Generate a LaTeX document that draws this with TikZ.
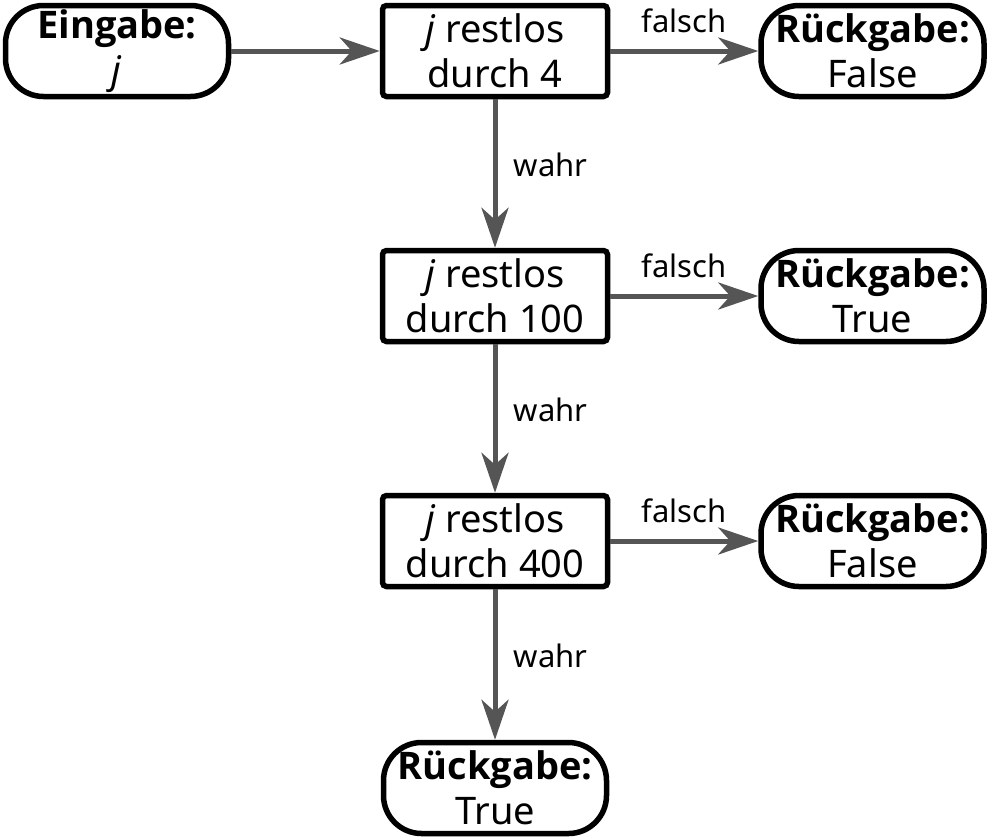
\documentclass[tikz,border=0pt]{standalone}
\usepackage{fontspec}
\setmainfont{Noto Sans}
\newfontfamily\headfam{Open Sans}
\newcommand\boldhead[1]{{\headfam\bfseries #1}}
\usetikzlibrary{arrows.meta}
\definecolor{arrowgray}{RGB}{85,85,85}
\tikzset{
  textfont/.style={font=\fontsize{38}{45}\selectfont},
  labelfont/.style={font=\fontsize{31}{36}\selectfont},
  testbox/.style={draw=black, line width=5.5pt, rounded corners=4pt, minimum width=225pt, minimum height=91pt, inner sep=0pt, align=center, textfont},
  termbox/.style={draw=black, line width=5.5pt, rounded corners=38pt, minimum width=223pt, minimum height=91pt, inner sep=0pt, align=center, textfont},
  flow/.style={draw=arrowgray, line width=5pt, -{Stealth[length=40pt, width=27pt, inset=12pt]}},
  nolabel/.style={midway, anchor=base, yshift=19pt, labelfont, text=black},
  yeslabel/.style={midway, anchor=base west, xshift=13pt, yshift=-3pt, labelfont, text=black}
}
\begin{document}
\begin{tikzpicture}[x=1pt, y=-1pt]
\useasboundingbox (0,0) rectangle (990,839);
\node[termbox] (in) at (117,51) {\boldhead{Eingabe:}\\\textit{j}};
\node[testbox] (t1) at (495,51) {\textit{j} restlos\\durch 4};
\node[termbox] (r1) at (872.5,51) {\boldhead{Rückgabe:}\\False};
\node[testbox] (t2) at (495,296) {\textit{j} restlos\\durch 100};
\node[termbox] (r2) at (872.5,296) {\boldhead{Rückgabe:}\\True};
\node[testbox] (t3) at (495,541) {\textit{j} restlos\\durch 400};
\node[termbox] (r3) at (872.5,541) {\boldhead{Rückgabe:}\\False};
\node[termbox] (r4) at (495,788) {\boldhead{Rückgabe:}\\True};
\draw[flow] (in) -- (t1);
\draw[flow] (t1) -- node[nolabel] {falsch} (r1);
\draw[flow] (t1) -- node[yeslabel] {wahr} (t2);
\draw[flow] (t2) -- node[nolabel] {falsch} (r2);
\draw[flow] (t2) -- node[yeslabel] {wahr} (t3);
\draw[flow] (t3) -- node[nolabel] {falsch} (r3);
\draw[flow] (t3) -- node[yeslabel] {wahr} (r4);
\end{tikzpicture}
\end{document}
